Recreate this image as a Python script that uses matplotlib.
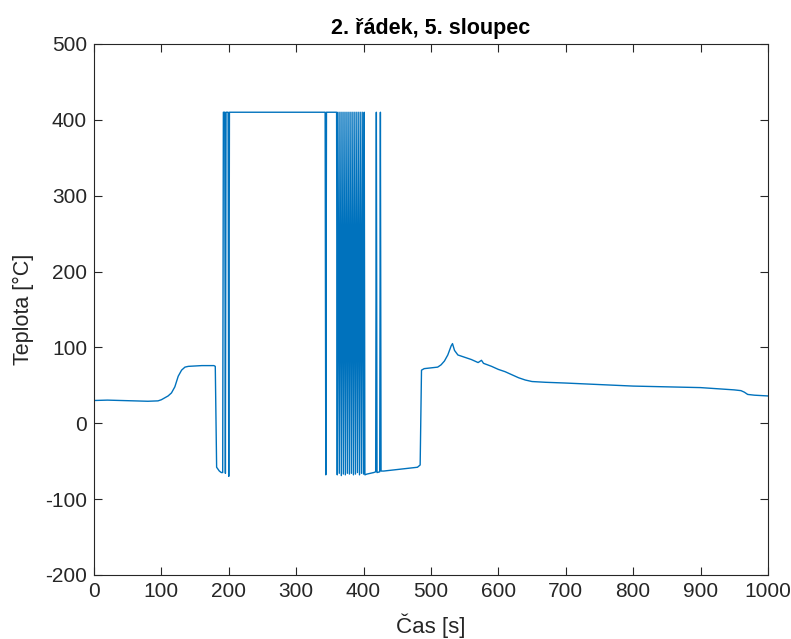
import matplotlib.pyplot as plt

plt.rcParams['font.family'] = ['Liberation Sans', 'DejaVu Sans']
plt.rcParams['axes.unicode_minus'] = False

# cas [s] a teplota [°C]
cas = [0, 20, 40, 60, 80, 95, 100, 110, 115, 120, 125, 130, 135, 140, 160, 178,
       180, 182, 186, 189, 191, 192, 194, 195, 196, 199, 200, 201, 343, 344, 345,
       360, 361, 362, 364, 365, 367, 368, 370, 371, 373, 374, 376, 377, 379, 380,
       382, 383, 385, 386, 388, 389, 391, 392, 394, 395, 397, 398, 400, 401, 402,
       405, 410, 415, 418, 419, 420, 424, 425, 426, 430, 440, 450, 460, 470, 480,
       484, 486, 490, 500, 510, 515, 520, 525, 530, 532, 535, 540, 550, 560, 570,
       575, 578, 590, 600, 610, 620, 630, 640, 650, 670, 700, 750, 800, 850, 900,
       950, 960, 965, 970, 980, 1000]
teplota = [30, 30.5, 30, 29.5, 29, 29.5, 31, 36, 40, 48, 62, 70, 74, 75, 76, 76,
           75, -58, -63, -65, -65, 410, 410, -66, 410, 410, -70, 410, 410, -68, 410,
           410, -68, 410, -66, 410, -69, 410, -67, 410, -68, 410, -66, 410, -67, 410,
           -66, 410, -68, 410, -67, 410, -65, 410, -68, 410, -66, 410, -67, 410, -68,
           -67, -66, -65, -64, 410, -65, -64, 410, -63, -63, -62, -61, -60, -59, -58,
           -55, 70, 72, 73, 74, 77, 82, 90, 102, 105, 96, 90, 87, 84, 80,
           83, 79, 75, 71, 68, 64, 60, 57, 55, 54, 53, 51, 49, 48, 47,
           44, 43, 41, 38, 37, 36]

fig = plt.figure(figsize=(7.91, 6.39), dpi=100)
ax = fig.add_axes([0.1188, 0.1002, 0.852, 0.831])
ax.plot(cas, teplota, color='#0072BD', linewidth=1.0)

ax.set_xlim(0, 1000)
ax.set_ylim(-200, 500)
ax.set_xticks(range(0, 1001, 100))
ax.set_yticks(range(-200, 501, 100))

c = '#262626'
for s in ax.spines.values():
    s.set_color(c)
    s.set_linewidth(0.8)
ax.tick_params(direction='in', top=True, right=True, length=6, width=0.8,
               colors=c, labelsize=15, pad=5)

ax.set_title('2. řádek, 5. sloupec', fontsize=15.5, fontweight='bold', color='black', pad=7)
ax.set_xlabel('Čas [s]', fontsize=16, color=c, labelpad=9)
ax.set_ylabel('Teplota [°C]', fontsize=15.5, color=c, labelpad=8)

fig.savefig('out.png', dpi=100)
